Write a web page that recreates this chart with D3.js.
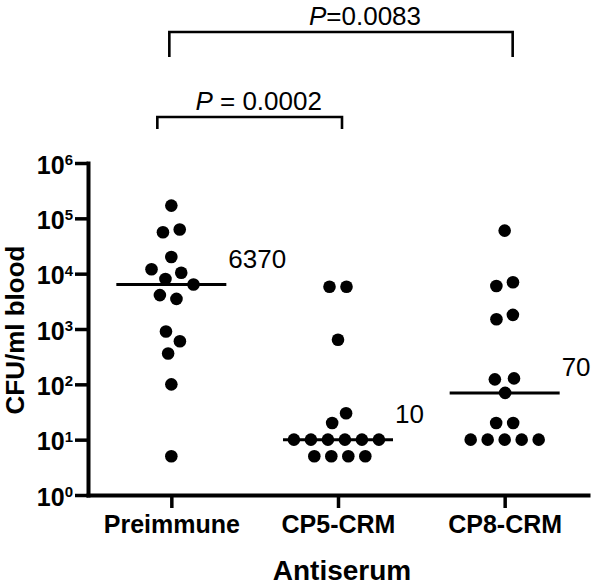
<!DOCTYPE html>
<html><head><meta charset="utf-8">
<script src="https://cdn.jsdelivr.net/npm/d3@7"></script>
<style>html,body{margin:0;padding:0;background:#fff;} svg{display:block;}</style>
</head><body>
<svg id="chart" width="600" height="587"></svg>
<script>
// ---- data ----
const categories = ["Preimmune", "CP5-CRM", "CP8-CRM"];
const preimmuneValues = [170000, 63000, 56000, 20000, 12000, 10400, 8000, 6370, 4100, 3500, 900, 600, 360, 100, 5];
const cp5Values = [5800, 5800, 640, 30, 20, 10, 10, 10, 10, 10, 10, 5, 5, 5, 5];
const cp8Values = [60000, 7000, 6000, 1800, 1500, 128, 123, 70, 20, 20, 10, 10, 10, 10, 10];
const medians = [6370, 10, 70];
const medianLabels = ["6370", "10", "70"];
const yTickValues = [1, 10, 100, 1000, 10000, 100000, 1000000];
const yTickExponents = ["0", "1", "2", "3", "4", "5", "6"];
const comparisonFrom = ["Preimmune", "Preimmune"];
const comparisonTo = ["CP5-CRM", "CP8-CRM"];
const comparisonText = [" = 0.0002", "=0.0083"];
const yTitle = "CFU/ml blood";
const xTitle = "Antiserum";

const FONT = "Arial, 'Liberation Sans', Helvetica, sans-serif";
const groups = [preimmuneValues, cp5Values, cp8Values];

const svg = d3.select("#chart");
const x = d3.scalePoint().domain(categories).range([88, 588]).padding(0.5);
const y = d3.scaleLog().domain([1, 1e6]).range([495, 163]);

// ---- axes ----
const yAxis = svg.append("g").attr("transform", "translate(88,0)")
  .call(d3.axisLeft(y).tickValues(yTickValues).tickSize(13).tickSizeOuter(0).tickFormat(""));
yAxis.select(".domain").attr("stroke", "#000").attr("stroke-width", 4).attr("stroke-linecap", "square");
yAxis.selectAll(".tick line").attr("stroke", "#000").attr("stroke-width", 3.5);
yAxis.selectAll(".tick text").remove();
yAxis.selectAll(".tick").each(function(d, i) {
  const t = d3.select(this).append("text")
    .attr("x", -15).attr("y", 10).attr("text-anchor", "end").attr("fill", "#000")
    .style("font-family", FONT).style("font-weight", "bold").style("font-size", "25px");
  t.append("tspan").text("10");
  t.append("tspan").attr("dy", -8.5).style("font-size", "15px").text(yTickExponents[i]);
});

const xAxis = svg.append("g").attr("transform", "translate(0,495)")
  .call(d3.axisBottom(x).tickSize(13).tickSizeOuter(0));
xAxis.select(".domain").attr("stroke", "#000").attr("stroke-width", 4).attr("stroke-linecap", "square");
xAxis.selectAll(".tick line").attr("stroke", "#000").attr("stroke-width", 3.5);
xAxis.selectAll(".tick text").attr("y", 38).attr("dy", 0).attr("fill", "#000")
  .style("font-family", FONT).style("font-weight", "bold").style("font-size", "25px");

// axis titles
svg.append("text").attr("transform", "translate(24,330) rotate(-90)")
  .attr("text-anchor", "middle").attr("fill", "#000")
  .style("font-family", FONT).style("font-weight", "bold").style("font-size", "26px")
  .text(yTitle);
svg.append("text").attr("x", 342).attr("y", 580)
  .attr("text-anchor", "middle").attr("fill", "#000")
  .style("font-family", FONT).style("font-weight", "bold").style("font-size", "28px")
  .text(xTitle);

// ---- swarm layout ----
function swarm(values, r) {
  const nodes = values.map((v, i) => ({ v, y: y(v), fy: y(v), x: (i % 2 ? 1 : -1) * (1 + i * 0.2) }));
  const sim = d3.forceSimulation(nodes)
    .force("x", d3.forceX(0).strength(0.08))
    .force("collide", d3.forceCollide(r).iterations(4))
    .stop();
  for (let k = 0; k < 400; k++) sim.tick();
  return nodes;
}

groups.forEach((vals, gi) => {
  const cx = x(categories[gi]);
  const nodes = swarm(vals, 8.5);
  svg.append("g").selectAll("circle").data(nodes).join("circle")
    .attr("cx", d => cx + d.x).attr("cy", d => y(d.v)).attr("r", 6.3).attr("fill", "#000");
  // median line
  svg.append("line")
    .attr("x1", cx - 55).attr("x2", cx + 55)
    .attr("y1", y(medians[gi])).attr("y2", y(medians[gi]))
    .attr("stroke", "#000").attr("stroke-width", 3);
  svg.append("text").attr("x", cx + 57).attr("y", y(medians[gi]) - 17)
    .attr("fill", "#000").style("font-family", FONT).style("font-size", "26px")
    .text(medianLabels[gi]);
});

// ---- significance brackets ----
const bracketTop = [117, 32];
const bracketDrop = [12, 25];
const bracketPadL = [-14, -2];
const bracketPadR = [4, 8];
comparisonFrom.forEach((f, i) => {
  const x1 = x(f) + bracketPadL[i], x2 = x(comparisonTo[i]) + bracketPadR[i];
  const yt = bracketTop[i], yb = yt + bracketDrop[i];
  svg.append("path")
    .attr("d", `M${x1},${yb}V${yt}H${x2}V${yb}`)
    .attr("fill", "none").attr("stroke", "#000").attr("stroke-width", 2.6);
  const t = svg.append("text").attr("x", (x1 + x2) / 2 + (i === 0 ? 9 : 24)).attr("y", yt - 7)
    .attr("text-anchor", "middle").attr("fill", "#000")
    .style("font-family", FONT).style("font-size", "26px");
  t.append("tspan").style("font-style", "italic").text("P");
  t.append("tspan").text(comparisonText[i]);
});
</script>
</body></html>
